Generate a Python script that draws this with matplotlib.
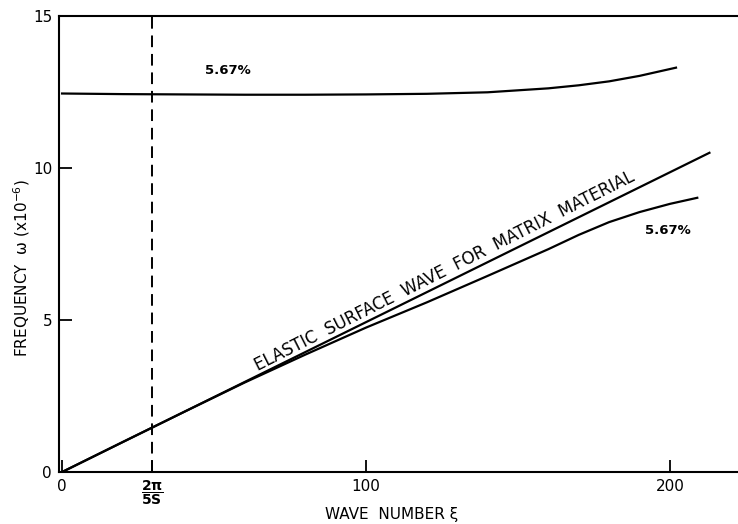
import numpy as np
import matplotlib
matplotlib.use("Agg")
import matplotlib.pyplot as plt

# values
WAVE_CUT = 29.6  # position of 2*pi/5S

flat_x = [0, 20, 40, 60, 80, 100, 120, 140, 160, 170, 180, 190, 202]
flat_y = [12.45, 12.43, 12.42, 12.41, 12.41, 12.42, 12.44, 12.49, 12.62, 12.72, 12.85, 13.03, 13.3]

matrix_x = [0, 213]
matrix_y = [0, 10.5]

lower_x = [0, 20, 40, 60, 80, 100, 120, 140, 160, 170, 180, 190, 200, 209]
lower_y = [0, 0.99, 1.97, 2.94, 3.86, 4.75, 5.58, 6.45, 7.33, 7.8, 8.22, 8.55, 8.82, 9.02]

x_ticks = [0, WAVE_CUT, 100, 200]
x_labels = ["0", r"$\mathbf{\dfrac{2\pi}{5S}}$", "100", "200"]
y_ticks = [0, 5, 10, 15]

fig = plt.figure(figsize=(7.38, 5.24), dpi=100)
ax = fig.add_axes([0.080, 0.0992, 0.92, 0.8703])

lw = 1.6
ax.plot(flat_x, flat_y, color="black", lw=lw)
ax.plot(matrix_x, matrix_y, color="black", lw=lw)
ax.plot(lower_x, lower_y, color="black", lw=lw)
ax.axvline(WAVE_CUT, color="black", lw=1.4, dashes=(6, 3.5))

ax.set_xlim(-1, 222.4)
ax.set_ylim(0, 15)

ax.set_xticks(x_ticks)
ax.set_xticklabels(x_labels)
ax.set_yticks(y_ticks)
ax.tick_params(direction="in", length=9, width=1.3, labelsize=11, pad=5)
ax.get_xticklabels()[1].set_fontsize(10)

for side in ["left", "bottom", "top"]:
    ax.spines[side].set_linewidth(1.5)
ax.spines["right"].set_visible(False)

ax.set_xlabel("WAVE  NUMBER ξ", fontsize=11, va="center")
ax.xaxis.set_label_coords(0.49, -0.094)
ax.text(-0.055, 0.447, "FREQUENCY  ω (x10$^{-6}$)", transform=ax.transAxes,
        rotation=90, ha="center", va="center", fontsize=11)

ax.text(54.6, 13.2, "5.67%", fontsize=9.5, fontweight="bold", ha="center", va="center")
ax.text(199.3, 7.93, "5.67%", fontsize=9.5, fontweight="bold", ha="center", va="center")

ax.text(126, 6.62, "ELASTIC  SURFACE  WAVE  FOR  MATRIX  MATERIAL",
        fontsize=12, rotation=26.8, ha="center", va="center",
        rotation_mode="anchor")

fig.savefig("out.png", dpi=100)
